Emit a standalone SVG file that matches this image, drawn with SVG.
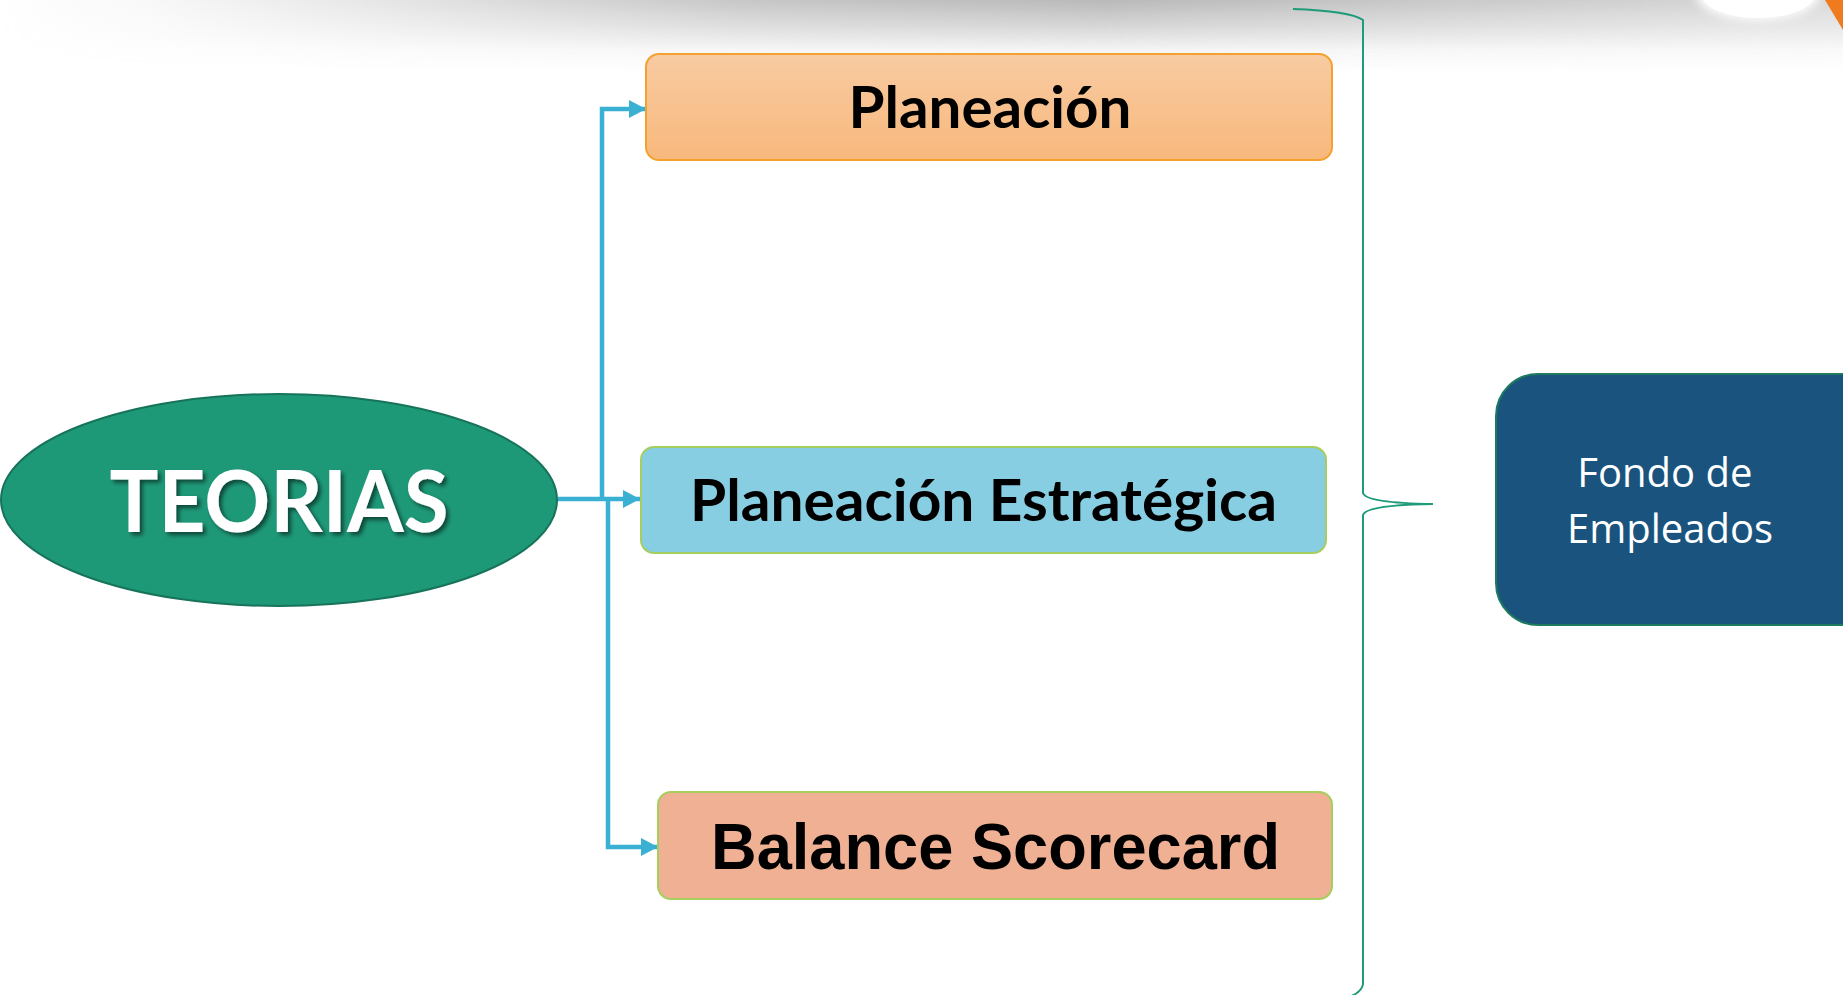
<svg xmlns="http://www.w3.org/2000/svg" width="1843" height="995" viewBox="0 0 1843 995">
<defs>
<style>
.conn{fill:none;stroke:#3AB0D2;stroke-width:4.5}
.brace{fill:none;stroke:#1E9B7A;stroke-width:2}
.lbl{font-family:Lato,"Open Sans","Liberation Sans",sans-serif;font-weight:bold;fill:#000;text-anchor:middle}
</style>
<linearGradient id="gOrange" x1="0" y1="0" x2="0" y2="1">
<stop offset="0" stop-color="#F8CBA2"/>
<stop offset="1" stop-color="#F8B87C"/>
</linearGradient>
<linearGradient id="vgrad" x1="0" y1="0" x2="0" y2="1">
<stop offset="0" stop-color="#b9b9b9" stop-opacity="1"/>
<stop offset="0.35" stop-color="#b9b9b9" stop-opacity="0.6"/>
<stop offset="0.7" stop-color="#b9b9b9" stop-opacity="0.15"/>
<stop offset="1" stop-color="#b9b9b9" stop-opacity="0"/>
</linearGradient>
<linearGradient id="hgrad" x1="0" y1="0" x2="1843" y2="0" gradientUnits="userSpaceOnUse">
<stop offset="0" stop-color="#fff" stop-opacity="0"/>
<stop offset="0.08" stop-color="#fff" stop-opacity="0.1"/>
<stop offset="0.2" stop-color="#fff" stop-opacity="0.35"/>
<stop offset="0.4" stop-color="#fff" stop-opacity="0.8"/>
<stop offset="0.6" stop-color="#fff" stop-opacity="1"/>
<stop offset="0.8" stop-color="#fff" stop-opacity="0.75"/>
<stop offset="1" stop-color="#fff" stop-opacity="0.55"/>
</linearGradient>
<mask id="hmask" maskUnits="userSpaceOnUse" x="0" y="0" width="1843" height="80">
<rect x="0" y="0" width="1843" height="80" fill="url(#hgrad)"/>
</mask>
<filter id="blur2" x="-50%" y="-200%" width="200%" height="500%"><feGaussianBlur stdDeviation="5"/></filter>
<filter id="tshadow" x="-10%" y="-20%" width="120%" height="150%"><feDropShadow dx="3" dy="3" stdDeviation="2" flood-color="#000" flood-opacity="0.55"/></filter>
<marker id="arr" viewBox="0 0 17 18" refX="17" refY="9" markerWidth="17" markerHeight="18" orient="auto" markerUnits="userSpaceOnUse">
<path d="M0,0 L17,9 L0,18 Z" fill="#3AB0D2"/>
</marker>
</defs>
<rect width="1843" height="995" fill="#FFFFFF"/>
<g id="background">
<rect x="0" y="0" width="1843" height="72" fill="url(#vgrad)" mask="url(#hmask)"/>
<ellipse cx="1758" cy="-6" rx="62" ry="26" fill="#FFFFFF" filter="url(#blur2)"/>
<ellipse cx="1758" cy="-5" rx="56" ry="23" fill="#FFFFFF"/>
<polygon points="1825,0 1843,0 1843,30" fill="#F07A1E"/>
</g>
<g id="connectors">
<polyline class="conn" points="558,499 640,499" marker-end="url(#arr)"/>
<polyline class="conn" points="602,499 602,109 646,109" marker-end="url(#arr)"/>
<polyline class="conn" points="608,499 608,847 658,847" marker-end="url(#arr)"/>
<path class="brace" d="M1293,9 Q1350,11 1363,20 L1363,493 Q1366,503 1433,504 Q1366,505 1363,515 L1363,984 Q1362,992 1349,997"/>
</g>
<g id="teorias">
<ellipse cx="279" cy="500" rx="278" ry="106" fill="#1E9978" stroke="#17735A" stroke-width="2"/>
<text x="279" y="532" font-family="Lato,'Open Sans','Liberation Sans',sans-serif" font-weight="bold" font-size="86" fill="#FFFFFF" text-anchor="middle" textLength="339" lengthAdjust="spacingAndGlyphs" filter="url(#tshadow)">TEORIAS</text>
</g>
<g id="planeacion">
<rect x="646" y="54" width="686" height="106" rx="13" fill="url(#gOrange)" stroke="#F3A12F" stroke-width="2"/>
<text class="lbl" x="990" y="128" font-size="57" textLength="283" lengthAdjust="spacingAndGlyphs">Planeación</text>
</g>
<g id="planeacion-estrategica">
<rect x="641" y="447" width="685" height="106" rx="13" fill="#87CEE3" stroke="#A6CE5E" stroke-width="2"/>
<text class="lbl" x="983.5" y="521" font-size="57" textLength="587" lengthAdjust="spacingAndGlyphs">Planeación Estratégica</text>
</g>
<g id="balance-scorecard">
<rect x="658" y="792" width="674" height="107" rx="13" fill="#F0B094" stroke="#A6CE5E" stroke-width="2"/>
<text x="995.5" y="869" font-family="'Liberation Sans',Arial,sans-serif" font-weight="bold" font-size="64" fill="#000" text-anchor="middle" textLength="569" lengthAdjust="spacingAndGlyphs">Balance Scorecard</text>
</g>
<g id="fondo-de-empleados">
<rect x="1496" y="374" width="400" height="251" rx="42" fill="#1A547E" stroke="#1E7A5E" stroke-width="2"/>
<text font-family="'Open Sans','Noto Sans','Liberation Sans',sans-serif" font-size="40" fill="#FFFFFF" text-anchor="middle">
<tspan x="1670" y="487">Fondo de</tspan>
<tspan x="1670" y="543">Empleados</tspan>
</text>
</g>
</svg>
